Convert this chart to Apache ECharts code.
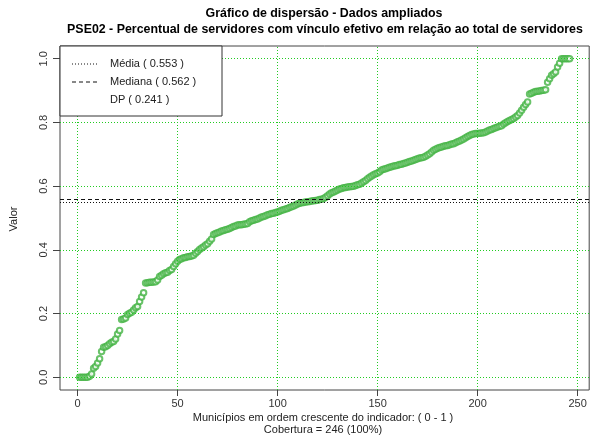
<!DOCTYPE html>
<html>
<head>
<meta charset="utf-8">
<script src="https://cdn.jsdelivr.net/npm/echarts@6/dist/echarts.min.js"></script>
<style>
html, body { margin: 0; padding: 0; background: #fff; }
#chart { width: 597px; height: 441px; }
</style>
</head>
<body>
<div id="chart"></div>
<script>
// valores do indicador, ordenados (246 municipios)
var valores = [
    0, 0, 0, 0, 0, 0.003, 0.010, 0.028, 0.034, 0.045,
    0.058, 0.081, 0.094, 0.096, 0.100, 0.105, 0.110, 0.112, 0.120, 0.136,
    0.147, 0.181, 0.183, 0.186, 0.197, 0.201, 0.204, 0.211, 0.218, 0.222,
    0.238, 0.252, 0.265, 0.296, 0.297, 0.298, 0.298, 0.299, 0.300, 0.305,
    0.316, 0.320, 0.325, 0.328, 0.330, 0.335, 0.338, 0.348, 0.356, 0.364,
    0.370, 0.372, 0.375, 0.376, 0.378, 0.379, 0.381, 0.383, 0.389, 0.395,
    0.401, 0.406, 0.410, 0.415, 0.419, 0.427, 0.434, 0.448, 0.451, 0.454,
    0.456, 0.459, 0.461, 0.463, 0.465, 0.467, 0.470, 0.473, 0.475, 0.478,
    0.479, 0.479, 0.480, 0.481, 0.483, 0.488, 0.491, 0.493, 0.495, 0.497,
    0.500, 0.503, 0.505, 0.507, 0.510, 0.512, 0.514, 0.515, 0.517, 0.519,
    0.521, 0.524, 0.526, 0.528, 0.530, 0.533, 0.535, 0.538, 0.541, 0.544,
    0.546, 0.548, 0.549, 0.550, 0.551, 0.552, 0.553, 0.554, 0.555, 0.556,
    0.558, 0.559, 0.561, 0.565, 0.570, 0.575, 0.579, 0.582, 0.585, 0.588,
    0.591, 0.593, 0.595, 0.596, 0.597, 0.598, 0.599, 0.600, 0.602, 0.604,
    0.606, 0.610, 0.614, 0.618, 0.623, 0.628, 0.632, 0.636, 0.639, 0.641,
    0.645, 0.651, 0.653, 0.655, 0.657, 0.659, 0.661, 0.663, 0.664, 0.666,
    0.668, 0.669, 0.671, 0.673, 0.675, 0.677, 0.679, 0.681, 0.684, 0.686,
    0.688, 0.689, 0.691, 0.694, 0.698, 0.702, 0.707, 0.713, 0.716, 0.719,
    0.721, 0.723, 0.725, 0.727, 0.728, 0.730, 0.732, 0.733, 0.736, 0.739,
    0.742, 0.745, 0.748, 0.752, 0.756, 0.759, 0.762, 0.764, 0.765, 0.765,
    0.766, 0.767, 0.768, 0.770, 0.773, 0.776, 0.778, 0.781, 0.783, 0.786,
    0.788, 0.790, 0.795, 0.799, 0.803, 0.806, 0.809, 0.812, 0.817, 0.822,
    0.830, 0.838, 0.848, 0.856, 0.864, 0.889, 0.892, 0.895, 0.897, 0.898,
    0.899, 0.900, 0.901, 0.903, 0.926, 0.937, 0.948, 0.953, 0.958, 0.974,
    0.986, 1.0, 1.0, 1.0, 1.0, 1.0
]
var xTicks = [0, 50, 100, 150, 200, 250]
var yTicks = [0, 0.2, 0.4, 0.6, 0.8, 1.0]
var media = 0.553
var mediana = 0.562
var dp = 0.241

var fonte = 'Liberation Sans, Arial, sans-serif'
var verde = '#22cc22'

var chartDom = document.getElementById('chart')
var myChart = echarts.init(chartDom)

var pontos = valores.map(function (v, i) { return [i + 1, v] })

// linhas de grade verticais e horizontais
var estiloGrade = { color: verde, type: [1, 2], width: 1, opacity: 1 }
var grade = []
xTicks.forEach(function (t) { grade.push({ xAxis: t, lineStyle: estiloGrade }) })
yTicks.forEach(function (t) { grade.push({ yAxis: t, lineStyle: estiloGrade }) })

let options = {
    animation: false,
    textStyle: { fontFamily: fonte },
    grid: {
        left: 60,
        top: 46,
        width: 529.2,
        bottom: 51,
        show: true,
        borderColor: '#444',
        borderWidth: 1,
        backgroundColor: 'transparent'
    },
    xAxis: {
        type: 'value',
        min: -8.8,
        max: 255.8,
        axisLine: { show: false, onZero: false },
        axisTick: {
            show: true,
            length: 6,
            customValues: xTicks,
            lineStyle: { color: '#444' }
        },
        axisLabel: {
            customValues: xTicks,
            margin: 8,
            fontSize: 11,
            color: '#333',
            fontFamily: fonte
        },
        splitLine: { show: false }
    },
    yAxis: {
        type: 'value',
        min: -0.04,
        max: 1.04,
        axisLine: { show: false, onZero: false },
        axisTick: {
            show: true,
            length: 7,
            customValues: yTicks,
            lineStyle: { color: '#444' }
        },
        axisLabel: {
            customValues: yTicks,
            rotate: 90,
            margin: 11,
            fontSize: 11,
            color: '#333',
            fontFamily: fonte,
            formatter: function (v) { return v.toFixed(1) }
        },
        splitLine: { show: false }
    },
    series: [
        {
            type: 'line',
            data: [],
            silent: true,
            markLine: {
                silent: true,
                symbol: 'none',
                label: { show: false },
                lineStyle: estiloGrade,
                data: grade
            }
        },
        {
            type: 'scatter',
            data: pontos,
            symbol: 'emptyCircle',
            symbolSize: 5.5,
            itemStyle: { color: '#45b445', borderWidth: 0.7 },
            silent: true,
            markLine: {
                silent: true,
                symbol: 'none',
                label: { show: false },
                data: [
                    { yAxis: media, lineStyle: { color: '#111', type: [1, 2], width: 1 } },
                    { yAxis: mediana, lineStyle: { color: '#111', type: [4, 3], width: 1 } }
                ]
            }
        }
    ],
    graphic: [
        {
            type: 'text',
            x: 324, y: 14,
            style: {
                text: 'Gráfico de dispersão - Dados ampliados',
                font: 'bold 12.4px ' + fonte,
                fill: '#000',
                align: 'center',
                verticalAlign: 'middle'
            }
        },
        {
            type: 'text',
            x: 325, y: 30,
            style: {
                text: 'PSE02 - Percentual de servidores com vínculo efetivo em relação ao total de servidores',
                font: 'bold 12.4px ' + fonte,
                fill: '#000',
                align: 'center',
                verticalAlign: 'middle'
            }
        },
        {
            type: 'rect',
            shape: { x: 60, y: 46, width: 162, height: 70 },
            style: { fill: '#fff', stroke: '#333', lineWidth: 1 },
            z: 100
        },
        {
            type: 'line',
            shape: { x1: 72, y1: 64, x2: 97, y2: 64 },
            style: { stroke: '#111', lineWidth: 1, lineDash: [1, 2] },
            z: 101
        },
        {
            type: 'line',
            shape: { x1: 72, y1: 82, x2: 97, y2: 82 },
            style: { stroke: '#111', lineWidth: 1, lineDash: [4, 3] },
            z: 101
        },
        {
            type: 'text',
            x: 110, y: 64,
            style: { text: 'Média ( ' + media.toFixed(3) + ' )', font: '11px ' + fonte, fill: '#222', verticalAlign: 'middle' },
            z: 101
        },
        {
            type: 'text',
            x: 110, y: 82,
            style: { text: 'Mediana ( ' + mediana.toFixed(3) + ' )', font: '11px ' + fonte, fill: '#222', verticalAlign: 'middle' },
            z: 101
        },
        {
            type: 'text',
            x: 110, y: 100,
            style: { text: 'DP ( ' + dp.toFixed(3) + ' )', font: '11px ' + fonte, fill: '#222', verticalAlign: 'middle' },
            z: 101
        },
        {
            type: 'text',
            x: 323, y: 418,
            style: { text: 'Municípios em ordem crescente do indicador: ( 0 - 1 )', font: '11px ' + fonte, fill: '#222', align: 'center', verticalAlign: 'middle' }
        },
        {
            type: 'text',
            x: 323, y: 430,
            style: { text: 'Cobertura = ' + valores.length + ' (100%)', font: '11px ' + fonte, fill: '#222', align: 'center', verticalAlign: 'middle' }
        },
        {
            type: 'text',
            x: 14, y: 219,
            rotation: Math.PI / 2,
            style: { text: 'Valor', font: '11px ' + fonte, fill: '#222', align: 'center', verticalAlign: 'middle' }
        }
    ]
}
myChart.setOption(options)
</script>
</body>
</html>
